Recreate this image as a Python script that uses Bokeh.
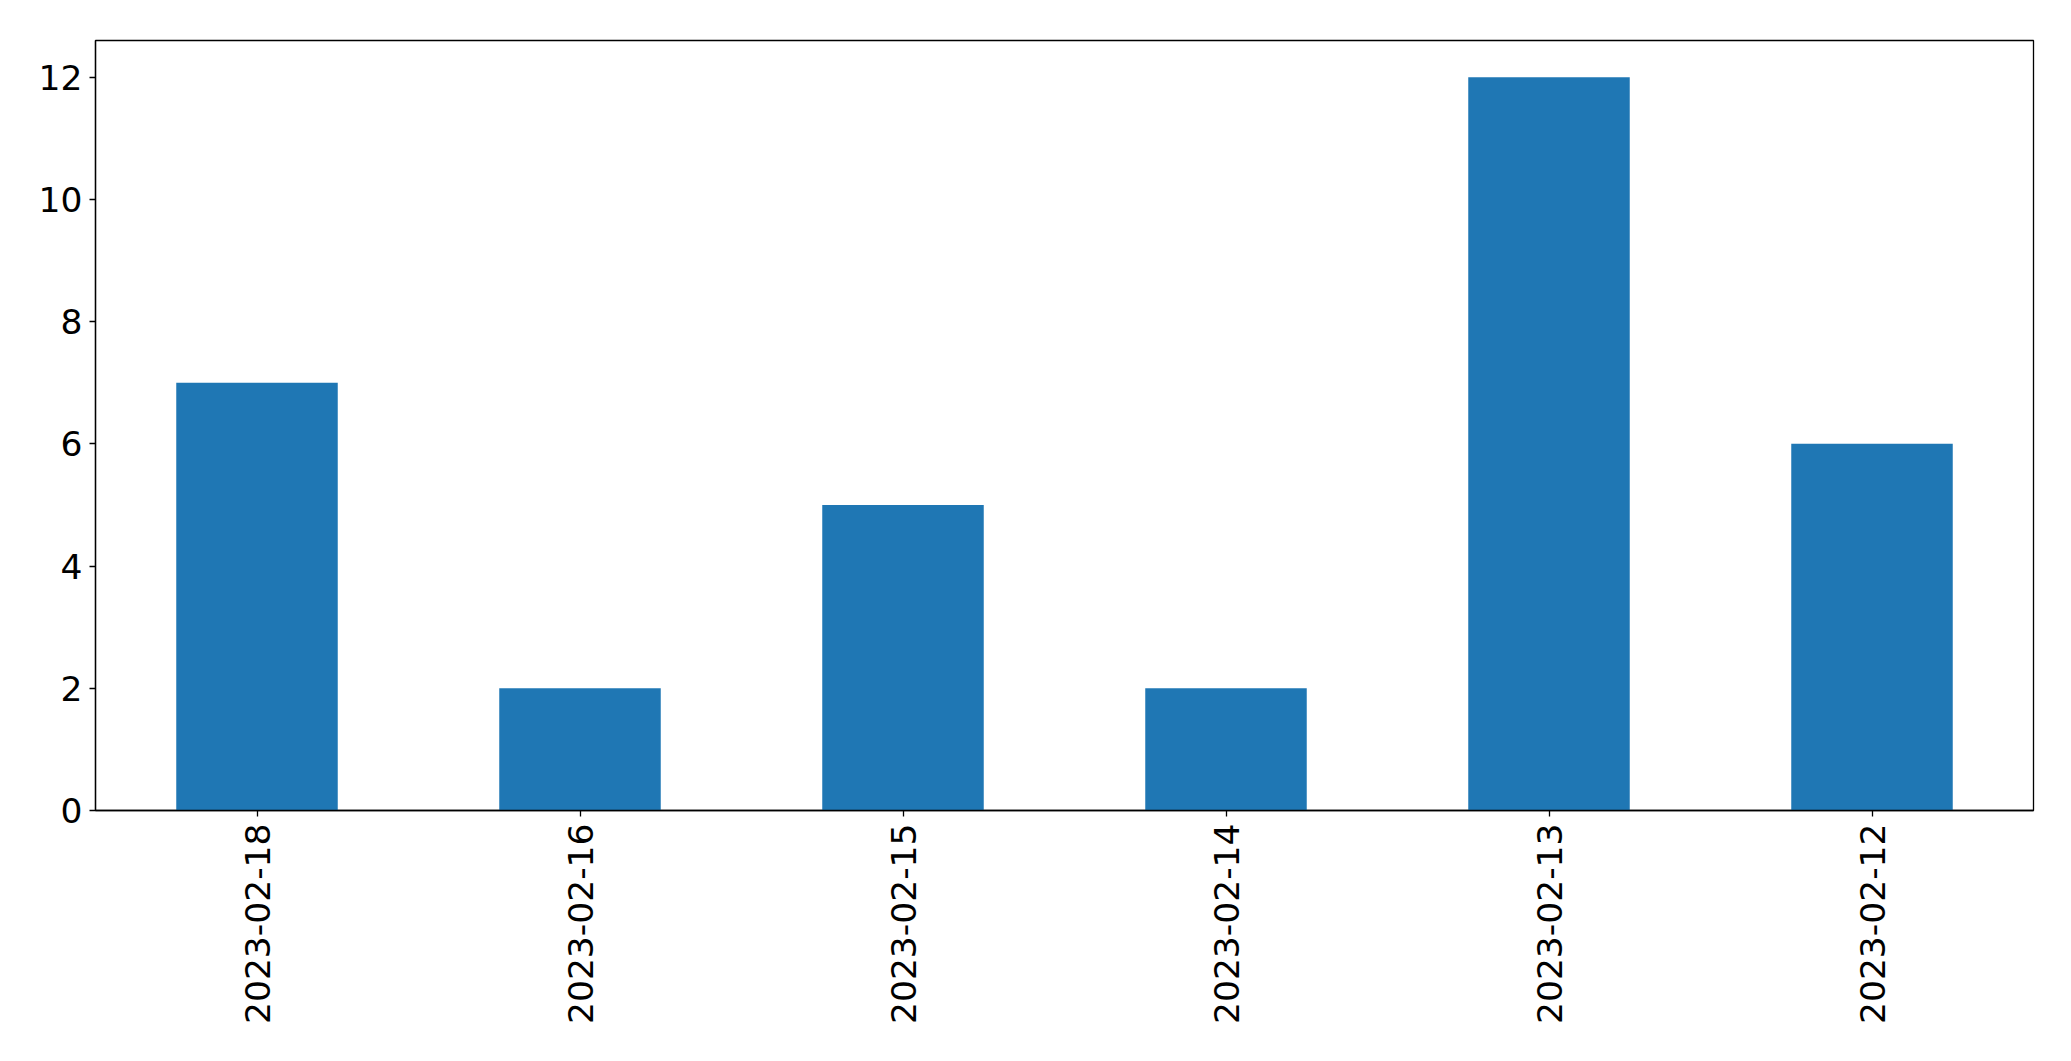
import math
from bokeh.plotting import figure
from bokeh.models import ColumnDataSource, FactorRange, Range1d, SingleIntervalTicker
from bokeh.embed import file_html
from bokeh.resources import INLINE

dates = ["2023-02-18", "2023-02-16", "2023-02-15", "2023-02-14", "2023-02-13", "2023-02-12"]
counts = [7, 2, 5, 2, 12, 6]

source = ColumnDataSource(data=dict(date=dates, count=counts))

p = figure(
    x_range=FactorRange(*dates, range_padding=0),
    y_range=Range1d(0, 12.6),
    frame_width=1938,
    frame_height=770,
    min_border_left=95,
    min_border_top=40,
    min_border_right=20,
    min_border_bottom=220,
    output_backend="svg",
    toolbar_location=None,
    background_fill_color="white",
    border_fill_color="white",
)

p.vbar(x="date", top="count", width=0.5, source=source,
       fill_color="#1f77b4", line_color=None)

p.outline_line_color = "black"
p.outline_line_width = 1.3
p.outline_line_alpha = 1.0
p.xgrid.visible = False
p.ygrid.visible = False

for ax in (p.xaxis[0], p.yaxis[0]):
    ax.axis_line_color = "black"
    ax.axis_line_width = 1.3
    ax.major_tick_line_color = "black"
    ax.major_tick_line_width = 1.3
    ax.major_tick_out = 6
    ax.major_tick_in = 0
    ax.minor_tick_line_color = None
    ax.major_label_text_font = "DejaVu Sans"
    ax.major_label_text_font_size = "34.5px"
    ax.major_label_text_color = "black"

p.yaxis[0].ticker = SingleIntervalTicker(interval=2)
p.yaxis[0].major_label_standoff = 7
p.xaxis[0].major_label_orientation = math.pi / 2
p.xaxis[0].major_label_standoff = 7

open("out.html", "w").write(file_html(p, INLINE))
